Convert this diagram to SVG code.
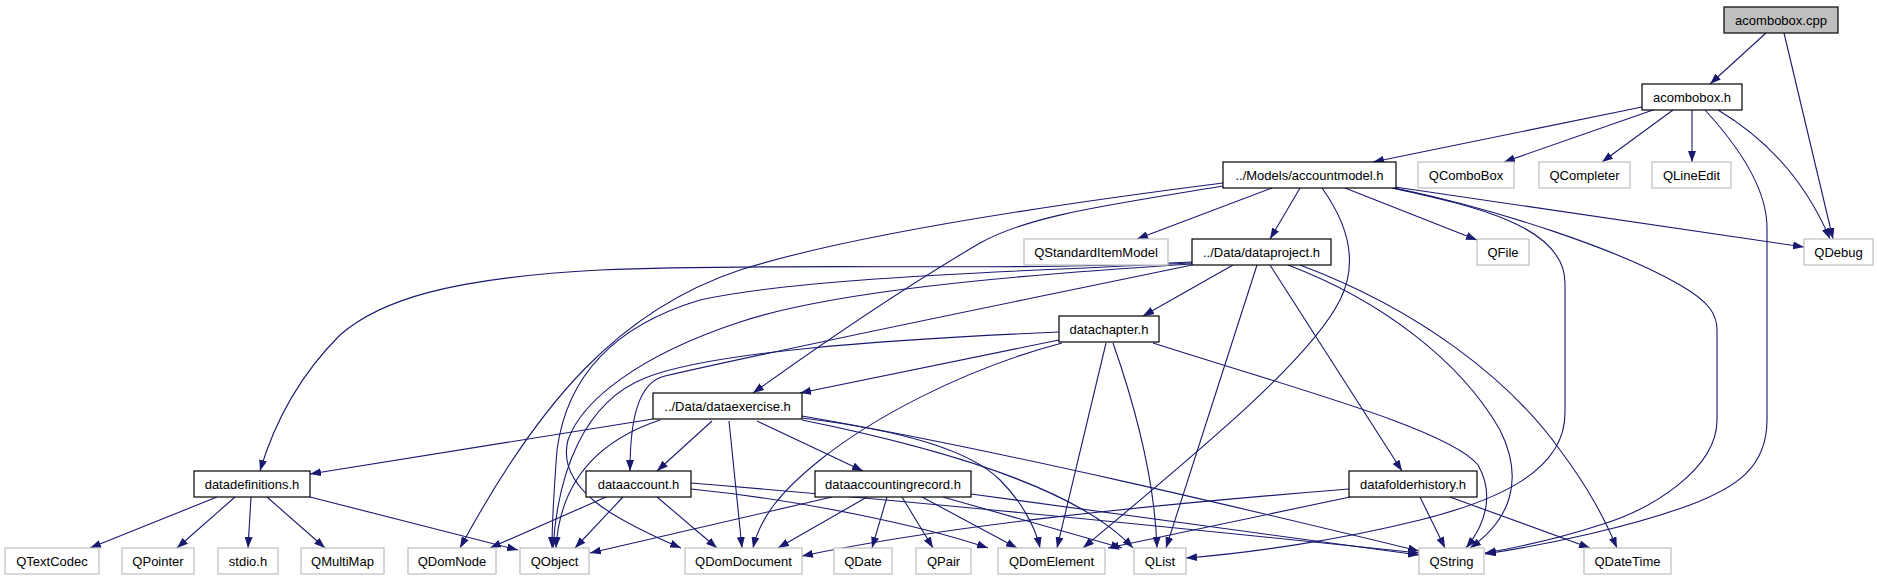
<svg xmlns="http://www.w3.org/2000/svg" width="1877" height="581" viewBox="0 0 1877 581">
<style>
.n rect{fill:#fff;stroke:#000;stroke-width:1.2}
.g rect{fill:#fff;stroke:#bfbfbf;stroke-width:1.2}
.r rect{fill:#bfbfbf;stroke:#000;stroke-width:1.2}
text{font-family:"Liberation Sans",Arial,sans-serif;font-size:13px;fill:#000;text-anchor:middle}
#edges path{fill:none;stroke:#191970;stroke-width:1.1;marker-end:url(#ah)}
</style>
<defs>
<marker id="ah" markerUnits="userSpaceOnUse" markerWidth="11" markerHeight="8" refX="11" refY="4" orient="auto">
<path d="M0,0 L11,4 L0,8 z" fill="#191970"/>
</marker>
</defs>
<rect width="1877" height="581" fill="#fff"/>
<g id="edges">
<path d="M1766,33 L1710,84"/>
<path d="M1784,33 L1833,239"/>
<path d="M1642,107 L1373,162"/>
<path d="M1653,110 L1504,162"/>
<path d="M1673,110 L1602,162"/>
<path d="M1692,110 L1692,162"/>
<path d="M1718,110 C1765,138 1805,180 1830,239"/>
<path d="M1705,110 C1740,148 1767,190 1767,228 L1767,420 C1767,468 1735,488 1690,505 C1630,527 1550,544 1485,554"/>
<path d="M1223,183 C1050,205 850,235 740,270 C620,310 540,400 460,548"/>
<path d="M1223,186 C1110,205 1030,215 980,243 C900,290 820,345 753,393"/>
<path d="M1272,188 L1137,239"/>
<path d="M1300,188 L1270,239"/>
<path d="M1322,188 C1345,220 1360,260 1340,300 C1310,360 1200,450 1083,548"/>
<path d="M1345,188 L1477,240"/>
<path d="M1392,188 C1470,205 1565,225 1565,283 L1565,413 C1565,470 1500,500 1420,520 C1340,540 1250,553 1186,558"/>
<path d="M1395,188 C1500,210 1620,250 1680,285 C1710,302 1717,315 1717,330 L1717,420 C1717,470 1650,510 1600,525 C1560,538 1520,547 1485,553"/>
<path d="M1395,187 L1804,247"/>
<path d="M1192,262 C1000,272 800,262 600,270 C450,278 380,300 340,335 C300,375 275,420 260,471"/>
<path d="M1192,263 C1000,272 800,278 700,300 C600,330 565,390 557,450 C554,490 552,520 552,548"/>
<path d="M1192,264 C1000,276 830,292 740,322 C640,355 582,400 568,440 C555,490 620,522 681,548"/>
<path d="M1192,265 C1000,305 800,345 665,376 C638,382 630,420 630,471"/>
<path d="M1233,265 L1143,316"/>
<path d="M1257,265 L1166,548"/>
<path d="M1270,265 L1402,471"/>
<path d="M1288,265 C1380,300 1460,360 1500,430 C1525,480 1510,520 1470,548"/>
<path d="M1300,265 C1420,310 1510,380 1560,450 C1590,490 1605,520 1617,548"/>
<path d="M1059,340 L800,393"/>
<path d="M1059,332 C880,340 710,352 645,378 C585,402 558,470 553,548"/>
<path d="M1062,343 C960,370 870,420 820,460 C780,492 760,518 753,548"/>
<path d="M1106,343 L1057,548"/>
<path d="M1113,343 C1140,420 1155,490 1157,548"/>
<path d="M1153,343 C1300,390 1450,430 1478,465 C1495,495 1485,525 1466,548"/>
<path d="M653,419 L310,474"/>
<path d="M660,420 C600,440 560,480 556,548"/>
<path d="M712,421 L657,471"/>
<path d="M729,421 L742,548"/>
<path d="M757,421 L863,471"/>
<path d="M802,418 C900,430 970,450 1000,480 C1020,500 1035,525 1040,548"/>
<path d="M802,420 C950,450 1080,490 1133,548"/>
<path d="M802,416 C1000,450 1250,510 1419,551"/>
<path d="M217,497 L90,548"/>
<path d="M235,497 L177,548"/>
<path d="M251,497 L248,548"/>
<path d="M267,497 L325,548"/>
<path d="M310,497 L518,550"/>
<path d="M606,497 L490,548"/>
<path d="M623,497 L575,548"/>
<path d="M657,497 L717,548"/>
<path d="M691,489 C800,500 920,525 988,548"/>
<path d="M691,483 C900,500 1200,530 1419,553"/>
<path d="M832,497 L590,553"/>
<path d="M867,497 L778,548"/>
<path d="M887,497 L872,548"/>
<path d="M902,497 L933,548"/>
<path d="M922,497 L1017,548"/>
<path d="M943,497 L1122,548"/>
<path d="M971,494 L1419,555"/>
<path d="M1349,489 C1150,505 950,525 802,556"/>
<path d="M1350,497 L1108,548"/>
<path d="M1420,497 L1445,548"/>
<path d="M1450,497 L1590,548"/>
</g>
<g id="acombobox_cpp" class="r"><rect x="1724" y="7" width="114" height="26"/><text x="1781" y="24.5">acombobox.cpp</text></g>
<g id="acombobox_h" class="n"><rect x="1642" y="84" width="100" height="26"/><text x="1692" y="101.5">acombobox.h</text></g>
<g id="accountmodel_h" class="n"><rect x="1223" y="162" width="173" height="26"/><text x="1309.5" y="179.5">../Models/accountmodel.h</text></g>
<g id="QComboBox" class="g"><rect x="1418" y="162" width="96" height="26"/><text x="1466" y="179.5">QComboBox</text></g>
<g id="QCompleter" class="g"><rect x="1539" y="162" width="91" height="26"/><text x="1584.5" y="179.5">QCompleter</text></g>
<g id="QLineEdit" class="g"><rect x="1652" y="162" width="79" height="26"/><text x="1691.5" y="179.5">QLineEdit</text></g>
<g id="QStandardItemModel" class="g"><rect x="1024" y="239" width="144" height="26"/><text x="1096" y="256.5">QStandardItemModel</text></g>
<g id="dataproject_h" class="n"><rect x="1192" y="239" width="139" height="26"/><text x="1261.5" y="256.5">../Data/dataproject.h</text></g>
<g id="QFile" class="g"><rect x="1477" y="239" width="52" height="26"/><text x="1503" y="256.5">QFile</text></g>
<g id="QDebug" class="g"><rect x="1804" y="239" width="69" height="26"/><text x="1838.5" y="256.5">QDebug</text></g>
<g id="datachapter_h" class="n"><rect x="1059" y="316" width="100" height="26"/><text x="1109" y="333.5">datachapter.h</text></g>
<g id="dataexercise_h" class="n"><rect x="653" y="393" width="149" height="26"/><text x="727.5" y="410.5">../Data/dataexercise.h</text></g>
<g id="datadefinitions_h" class="n"><rect x="194" y="471" width="116" height="26"/><text x="252" y="488.5">datadefinitions.h</text></g>
<g id="dataaccount_h" class="n"><rect x="586" y="471" width="105" height="26"/><text x="638.5" y="488.5">dataaccount.h</text></g>
<g id="dataaccountingrecord_h" class="n"><rect x="815" y="471" width="156" height="26"/><text x="893" y="488.5">dataaccountingrecord.h</text></g>
<g id="datafolderhistory_h" class="n"><rect x="1349" y="471" width="128" height="26"/><text x="1413" y="488.5">datafolderhistory.h</text></g>
<g id="QTextCodec" class="g"><rect x="5" y="548" width="94" height="26"/><text x="52" y="565.5">QTextCodec</text></g>
<g id="QPointer" class="g"><rect x="122" y="548" width="72" height="26"/><text x="158" y="565.5">QPointer</text></g>
<g id="stdio_h" class="g"><rect x="218" y="548" width="60" height="26"/><text x="248" y="565.5">stdio.h</text></g>
<g id="QMultiMap" class="g"><rect x="301" y="548" width="83" height="26"/><text x="342.5" y="565.5">QMultiMap</text></g>
<g id="QDomNode" class="g"><rect x="408" y="548" width="88" height="26"/><text x="452" y="565.5">QDomNode</text></g>
<g id="QObject" class="g"><rect x="520" y="548" width="69" height="26"/><text x="554.5" y="565.5">QObject</text></g>
<g id="QDomDocument" class="g"><rect x="685" y="548" width="117" height="26"/><text x="743.5" y="565.5">QDomDocument</text></g>
<g id="QDate" class="g"><rect x="834" y="548" width="58" height="26"/><text x="863" y="565.5">QDate</text></g>
<g id="QPair" class="g"><rect x="916" y="548" width="55" height="26"/><text x="943.5" y="565.5">QPair</text></g>
<g id="QDomElement" class="g"><rect x="998" y="548" width="107" height="26"/><text x="1051.5" y="565.5">QDomElement</text></g>
<g id="QList" class="g"><rect x="1134" y="548" width="52" height="26"/><text x="1160" y="565.5">QList</text></g>
<g id="QString" class="g"><rect x="1419" y="548" width="65" height="26"/><text x="1451.5" y="565.5">QString</text></g>
<g id="QDateTime" class="g"><rect x="1584" y="548" width="87" height="26"/><text x="1627.5" y="565.5">QDateTime</text></g>
</svg>
